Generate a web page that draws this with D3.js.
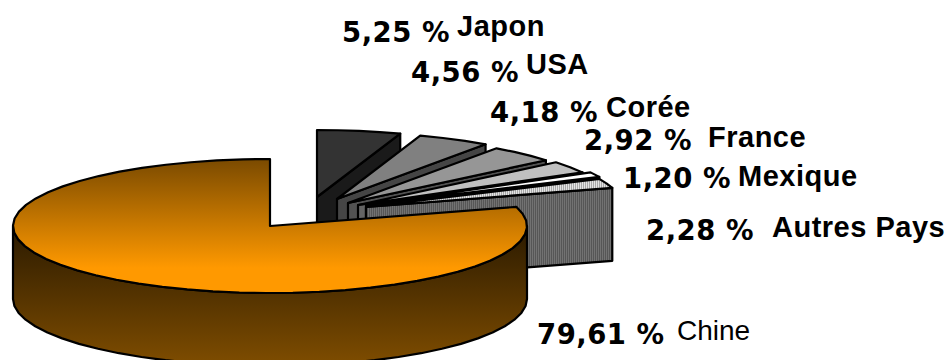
<!DOCTYPE html>
<html>
<head>
<meta charset="utf-8">
<script src="https://cdn.jsdelivr.net/npm/d3@7"></script>
<style>
html,body{margin:0;padding:0;background:#fff;overflow:hidden}
svg{display:block}
.pct{font-family:"DejaVu Sans";font-weight:700;font-size:27.5px;letter-spacing:.5px;fill:#000}
.name{font-family:"Liberation Sans";font-weight:700;font-size:29px;letter-spacing:.5px;fill:#000}
.name.plain{font-weight:400;font-size:28px;letter-spacing:0}
</style>
</head>
<body>
<svg id="chart" width="949" height="360"></svg>
<script>
// Share of each producing country, clockwise from twelve o'clock
const countries = ["Japon","USA","Corée","France","Mexique","Autres Pays","Chine"];
const shares = [5.25,4.56,4.18,2.92,1.20,2.28,79.61];
const shareLabels = ["5,25 %","4,56 %","4,18 %","2,92 %","1,20 %","2,28 %","79,61 %"];

// Pie projection
const cx = 270, cy = 226, rx = 257, ry = 67, depth = 73, facet = 6 * Math.PI / 180;

// Displacement of each pulled-out slice from the pie centre
const pullX = [47,67,78,88,96,96,0];
const pullY = [-29,-27,-23,-21,-21,-19,0];

// Slice faces: top fill, side fill
const topFill = ["#333333","#808080","#969696","#c0c0c0","#ffffff","url(#lightStripes)","url(#chinaTop)"];
const sideFill = ["#1a1a1a","#454545","#525252","#646464","#111111","url(#darkStripes)","url(#chinaSide)"];

// Label anchors: percentage then country name
const pctX = [342,411,490,584,623,646,537];
const pctY = [42,82,122,150,188,240,344];
const nameX = [457,526,606,708,738,772,677];
const nameY = [36,74,117,147,186,237,340];

const svg = d3.select("#chart");
const defs = svg.append("defs");

function gradient(id, y1, y2, stops) {
  const g = defs.append("linearGradient").attr("id", id)
    .attr("gradientUnits", "userSpaceOnUse")
    .attr("x1", 0).attr("x2", 0).attr("y1", y1).attr("y2", y2);
  stops.forEach(([o, c]) => g.append("stop").attr("offset", o).attr("stop-color", c));
}
gradient("chinaTop", cy - ry, cy + ry - 25, [[0,"#7a4a00"],[1,"#ff9900"]]);
gradient("chinaSide", cy + 6, cy + ry + depth, [[0,"#2e1c00"],[1,"#7f4d00"]]);

function stripes(id, a, b) {
  const p = defs.append("pattern").attr("id", id)
    .attr("patternUnits", "userSpaceOnUse").attr("width", 2).attr("height", 2);
  p.append("rect").attr("width", 1).attr("height", 2).attr("fill", a);
  p.append("rect").attr("x", 1).attr("width", 1).attr("height", 2).attr("fill", b);
}
stripes("lightStripes", "#e4e4e4", "#a8a8a8");
stripes("darkStripes", "#727272", "#565656");

const slices = d3.pie().sort(null).startAngle(0).endAngle(2 * Math.PI)(shares);

const line = d3.line();
const project = (a, ox, oy, dy = 0) => [cx + ox + rx * Math.sin(a), cy + oy - ry * Math.cos(a) + dy];

// Coarse polygonal rim, sampled at fixed steps between two pie angles
function rim(a0, a1, ox, oy, dy = 0) {
  const n = Math.max(1, Math.ceil((a1 - a0) / facet));
  return d3.range(n + 1).map(i => project(a0 + (a1 - a0) * i / n, ox, oy, dy));
}

const outlined = sel => sel.attr("stroke", "#000").attr("stroke-width", 2.2).attr("stroke-linejoin", "round");

// Small slices go first, drawn left to right, then the large one on top
slices.forEach((s, i) => {
  if (i === 6) return;
  const ox = pullX[i], oy = pullY[i];
  const apex = [cx + ox, cy + oy];
  const end = project(s.endAngle, ox, oy);
  svg.append("path")
    .attr("d", line([apex, end, [end[0], end[1] + depth], [apex[0], apex[1] + depth]]) + "Z")
    .attr("fill", sideFill[i]).call(outlined);
  svg.append("path")
    .attr("d", line([apex, ...rim(s.startAngle, s.endAngle, ox, oy)]) + "Z")
    .attr("fill", topFill[i]).call(outlined);
});

// Large slice: outer wall of the near half, then the top face
const big = slices[6];
const wallStart = Math.max(big.startAngle, Math.PI / 2);
const wallTop = rim(wallStart, 3 * Math.PI / 2, 0, 0);
const wallBottom = rim(wallStart, 3 * Math.PI / 2, 0, 0, depth).reverse();
svg.append("path")
  .attr("d", line([...wallTop, ...wallBottom]) + "Z")
  .attr("fill", sideFill[6]).call(outlined);
svg.append("path")
  .attr("d", line([[cx, cy], ...rim(big.startAngle, big.endAngle, 0, 0)]) + "Z")
  .attr("fill", topFill[6]).call(outlined);

// Labels
svg.selectAll("text.pct").data(shareLabels).join("text")
  .attr("class", "pct").attr("x", (d, i) => pctX[i]).attr("y", (d, i) => pctY[i]).text(d => d);
svg.selectAll("text.name").data(countries).join("text")
  .attr("class", (d, i) => i === 6 ? "name plain" : "name")
  .attr("x", (d, i) => nameX[i]).attr("y", (d, i) => nameY[i]).text(d => d);
</script>
</body>
</html>
